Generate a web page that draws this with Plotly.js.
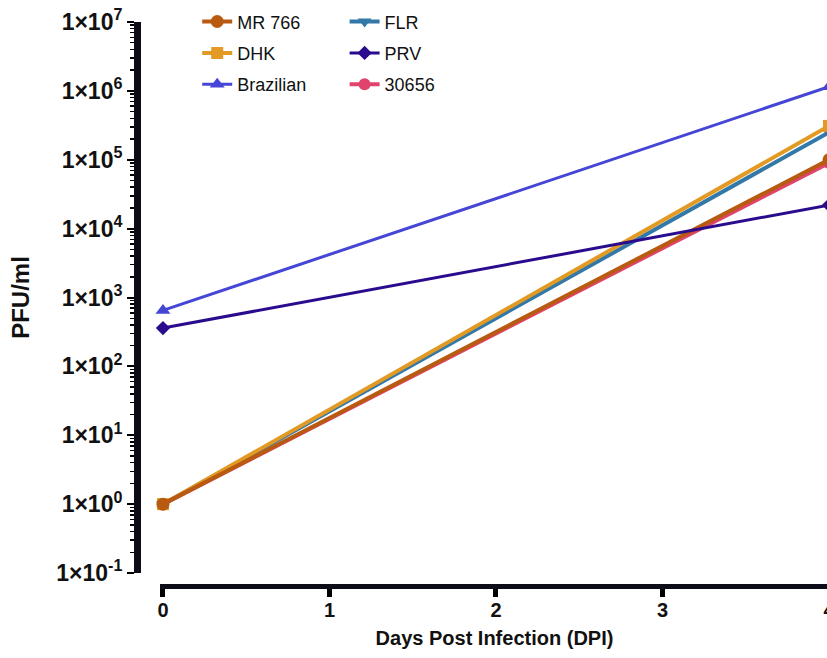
<!DOCTYPE html>
<html>
<head>
<meta charset="utf-8">
<script src="https://cdn.plot.ly/plotly-3.0.1.min.js"></script>
<style>
html,body{margin:0;padding:0;overflow:hidden;background:#fff;}
#chart{width:840px;height:658px;}
</style>
</head>
<body>
<div id="chart"></div>
<script>
// Data
const days = [0, 4];
const seriesNames = ["MR 766", "DHK", "Brazilian", "FLR", "PRV", "30656"];
const mr766 = [1, 100000];
const dhk = [1, 310000];
const brazilian = [650, 1150000];
const flr = [1, 250000];
const prv = [360, 22000];
const s30656 = [1, 90000];
const yTickVals = [0.1, 1, 10, 100, 1000, 10000, 100000, 1000000, 10000000];
const yTickText = ["1×10<sup>-1</sup>", "1×10<sup>0</sup>", "1×10<sup>1</sup>", "1×10<sup>2</sup>", "1×10<sup>3</sup>", "1×10<sup>4</sup>", "1×10<sup>5</sup>", "1×10<sup>6</sup>", "1×10<sup>7</sup>"];
const xTickVals = [0, 1, 2, 3, 4];

function tr(name, y, color, symbol, size, lw, legend, rank) {
  return {
    x: days, y: y, name: name, type: 'scatter', mode: 'lines+markers',
    line: {color: color, width: lw},
    marker: {color: color, symbol: symbol, size: size},
    legend: legend, legendrank: rank, legendgroup: name, cliponaxis: false
  };
}

const data = [
  tr(seriesNames[5], s30656, '#E0436B', 'circle', 12, 4, 'legend2', 3),
  tr(seriesNames[3], flr, '#3278A8', 'triangle-down', 12, 4, 'legend2', 1),
  tr(seriesNames[1], dhk, '#E29A25', 'square', 12, 4, 'legend', 2),
  tr(seriesNames[0], mr766, '#B85A10', 'circle', 13, 4, 'legend', 1),
  tr(seriesNames[4], prv, '#2A0B8E', 'diamond', 11, 3, 'legend2', 2),
  tr(seriesNames[2], brazilian, '#4546D6', 'triangle-up', 13, 3, 'legend', 3)
];

const legendFont = {family: 'Liberation Sans, Arial, sans-serif', size: 18, color: '#111'};
const layout = {
  width: 840, height: 658,
  margin: {l: 137, r: 11, t: 22, b: 72, autoexpand: false},
  paper_bgcolor: '#fff', plot_bgcolor: '#fff',
  font: {family: 'Liberation Sans, Arial, sans-serif', color: '#000'},
  showlegend: true,
  legend: {x: 0.087, xanchor: 'left', yref: 'container', y: 0.995, yanchor: 'top', font: legendFont,
           bgcolor: 'rgba(0,0,0,0)', tracegroupgap: 5, itemwidth: 30},
  legend2: {x: 0.3, xanchor: 'left', yref: 'container', y: 0.995, yanchor: 'top', font: legendFont,
           bgcolor: 'rgba(0,0,0,0)', tracegroupgap: 5, itemwidth: 30},
  xaxis: {
    domain: [0.0332, 1], range: [-0.018, 4], anchor: 'free', position: 0,
    tickvals: xTickVals, ticks: 'outside', ticklen: 8, tickwidth: 5, tickcolor: '#000',
    ticklabelstandoff: -4,
    showline: true, linewidth: 5, linecolor: '#0d0d1a', showgrid: false, zeroline: false,
    tickfont: {size: 20, family: 'Liberation Sans, Arial, sans-serif', weight: 'bold', color: '#111'},
    title: {text: '<b>Days Post Infection (DPI)</b>', font: {size: 20, color: '#111'}, standoff: 10}
  },
  yaxis: {
    type: 'log', domain: [0.023, 1], range: [-1, 7], anchor: 'free', position: 0,
    tickvals: yTickVals, ticktext: yTickText,
    ticks: 'outside', ticklen: 7, tickwidth: 2, tickcolor: '#000',
    minor: {ticks: 'outside', ticklen: 4, tickwidth: 1.5, tickcolor: '#000', dtick: 'D1', showgrid: false},
    showline: true, linewidth: 7, linecolor: '#0d0d1a', showgrid: false, zeroline: false,
    tickfont: {size: 23, family: 'Liberation Sans, Arial, sans-serif', weight: 'bold', color: '#111'},
    title: {text: '<b>PFU/ml</b>', font: {size: 24, color: '#111'}, standoff: 18}
  }
};

Plotly.newPlot('chart', data, layout, {displayModeBar: false, staticPlot: true});
</script>
</body>
</html>
